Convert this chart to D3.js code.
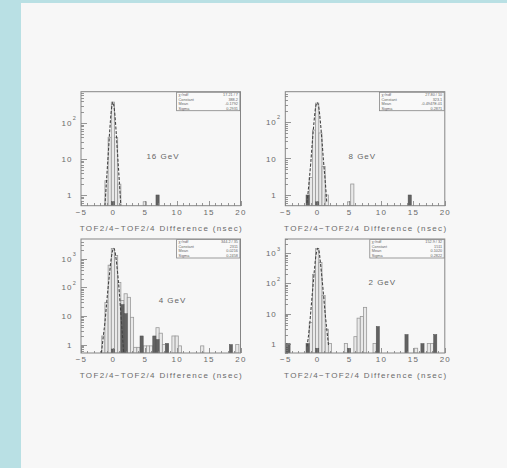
<!DOCTYPE html>
<html>
<head>
<meta charset="utf-8">
<title>TOF2/4 difference</title>
<script src="https://d3js.org/d3.v7.min.js"></script>
<style>
body { margin: 0; background: #b9e0e4; }
svg { display: block; }
.axis path { display: none; }
.axis line { stroke: #7c7c7c; stroke-width: 0.8; shape-rendering: crispEdges; }
.axis text { font-family: "Liberation Sans", Arial, sans-serif; fill: #6a6a6a; }
text { font-family: "Liberation Sans", Arial, sans-serif; }
</style>
</head>
<body>
<script>
// panel labels and axis ranges
var energies = ["16 GeV", "8 GeV", "4 GeV", "2 GeV"];
var xDomain = [-5, 20];
var xTicks = [-5, 0, 5, 10, 15, 20];
var yMin = [0.504, 0.509, 0.507, 0.486];
var yMax = [740, 676, 4950, 3000];
var binWidth = 0.5;
var xTitle = "TOF2/4\u2212TOF2/4 Difference (nsec)";

// histograms: [bin centre, entries]
var light16 = [[-1,2.5],[-0.5,40],[0,380],[0.5,40],[1,2],[5,0.65]];
var dark16  = [[0,0.65],[7,1]];
var light8  = [[-1,3],[-0.5,60],[0,330],[0.5,50],[1,6],[1.5,1],[5,0.65],[5.5,2]];
var dark8   = [[-1.5,1],[0,0.65],[14.5,1]];
var light4  = [[-1.5,2],[-1,30],[-0.5,600],[0,2300],[0.5,1300],[1,150],[1.5,35],[2,60],[2.5,45],[3,9],
               [3.5,0.8],[4,0.8],[5,0.9],[5.5,0.9],[6,0.9],[7,3.9],[7.5,2.5],[8,1],[9.5,2],[10,2],
               [10.5,0.9],[14,0.9],[19.5,1]];
var dark4   = [[0,0.7],[1.5,25],[2,12],[4.5,2],[6.5,2],[7,1.5],[8.5,1.1],[18.5,1]];
var light2  = [[-1,5],[-0.5,200],[0,1450],[0.5,500],[1,40],[1.5,3],[2,1],[4.5,1],[6,1.7],[6.5,7],
               [7,8],[7.5,16],[9,1],[15.5,0.7],[17.5,1],[18,1]];
var dark2   = [[-5,1],[-4.5,1],[-1.5,1],[0,0.7],[5,0.7],[9.5,3.7],[14,2],[16.5,1],[18.5,2]];

// gaussian fit curves
var fitX16 = [-1.25,-1,-0.75,-0.5,-0.25,0,0.25,0.5,0.75,1,1.25];
var fitY16 = [0.5,2.5,12,60,220,380,220,60,12,2.5,0.5];
var fitX8  = [-1.6,-1.25,-1,-0.75,-0.5,-0.25,0,0.25,0.5,0.75,1,1.25,1.5];
var fitY8  = [0.6,2.5,8,30,100,250,340,250,100,30,8,2.5,0.6];
var fitX4  = [-1.8,-1.5,-1.25,-1,-0.75,-0.5,-0.25,0,0.1,0.25,0.5,0.75,1,1.25,1.5,1.7];
var fitY4  = [0.5,2,6,25,100,350,1100,2100,2340,2100,1000,300,70,12,2,0.5];
var fitX2  = [-1.6,-1.25,-1,-0.75,-0.5,-0.25,0,0.1,0.25,0.5,0.75,1,1.25,1.5,1.8];
var fitY2  = [0.8,3,12,50,200,700,1350,1460,1300,500,150,40,10,3,0.8];

// stat boxes
var statNames = ["\u03c7\u00b2/ndf", "Constant", "Mean", "Sigma"];
var stats16 = ["17.21 /  7", "388.2", "-0.1792", "0.2931"];
var stats8  = ["27.80 /  10", "323.1", "-0.4947E-01", "0.2871"];
var stats4  = ["344.2 /  35", "2311", "0.0216", "0.2458"];
var stats2  = ["152.9 /  32", "1511", "0.1020", "0.2822"];

var panels = [
  {label: energies[0], light: light16, dark: dark16, fx: fitX16, fy: fitY16, stats: stats16,
   ylo: yMin[0], yhi: yMax[0], left: 81, top: 91.7, lab: [82, 65], box: 63.3},
  {label: energies[1], light: light8, dark: dark8, fx: fitX8, fy: fitY8, stats: stats8,
   ylo: yMin[1], yhi: yMax[1], left: 285.3, top: 91.7, lab: [77, 64.5], box: 64.7},
  {label: energies[2], light: light4, dark: dark4, fx: fitX4, fy: fitY4, stats: stats4,
   ylo: yMin[2], yhi: yMax[2], left: 81, top: 239, lab: [91.5, 61], box: 63.3},
  {label: energies[3], light: light2, dark: dark2, fx: fitX2, fy: fitY2, stats: stats2,
   ylo: yMin[3], yhi: yMax[3], left: 285.3, top: 239, lab: [97, 43], box: 74.4}
];

var W = 507, H = 468, w = 159.5, h = 114;

var svg = d3.select("body").append("svg")
  .attr("width", W).attr("height", H);

svg.append("rect").attr("x", 21).attr("y", 3)
  .attr("width", W - 21).attr("height", H - 3).attr("fill", "#f7f7f7");

panels.forEach(function(p, i) {
  var x = d3.scaleLinear().domain(xDomain).range([0, w]);
  var y = d3.scaleLog().domain([p.ylo, p.yhi]).range([h, 0]);

  var g = svg.append("g").attr("transform", "translate(" + p.left + "," + p.top + ")");

  g.append("clipPath").attr("id", "clip" + i)
    .append("rect").attr("width", w).attr("height", h);

  var plot = g.append("g").attr("clip-path", "url(#clip" + i + ")");

  plot.selectAll(".light").data(p.light).enter().append("rect")
    .attr("class", "light")
    .attr("x", function(d) { return x(d[0] - binWidth / 2); })
    .attr("width", x(binWidth) - x(0))
    .attr("y", function(d) { return y(d[1]); })
    .attr("height", function(d) { return h - y(d[1]); })
    .attr("fill", "#e9e9e9")
    .attr("stroke", "#999")
    .attr("stroke-width", 0.8);

  plot.selectAll(".dark").data(p.dark).enter().append("rect")
    .attr("class", "dark")
    .attr("x", function(d) { return x(d[0] - binWidth / 2); })
    .attr("width", x(binWidth) - x(0))
    .attr("y", function(d) { return y(d[1]); })
    .attr("height", function(d) { return h - y(d[1]); })
    .attr("fill", "#626262")
    .attr("stroke", "#505050")
    .attr("stroke-width", 0.5);

  var line = d3.line()
    .x(function(d) { return x(d[0]); })
    .y(function(d) { return y(d[1]); })
    .curve(d3.curveMonotoneX);

  plot.append("path")
    .datum(p.fx.map(function(v, k) { return [v, p.fy[k]]; }))
    .attr("d", line)
    .attr("fill", "none")
    .attr("stroke", "#444")
    .attr("stroke-width", 1.1)
    .attr("stroke-dasharray", "3,1.6");

  // x axis, ticks pointing in
  var xMinor = d3.range(-4, 20, 1).filter(function(v) { return v % 5 !== 0; });
  g.append("g").attr("class", "axis")
    .attr("transform", "translate(0," + h + ")")
    .call(d3.axisBottom(x).tickValues(xMinor).tickSize(-2.5).tickFormat(""));
  var xa = g.append("g").attr("class", "axis")
    .attr("transform", "translate(0," + h + ")")
    .call(d3.axisBottom(x).tickValues(xTicks).tickSize(-5).tickPadding(3.2)
      .tickFormat(function(d) { return d < 0 ? "\u2212" + (-d) : d; }));
  xa.selectAll("text").style("font-size", "8px").style("letter-spacing", "1.2px");

  // y axis (log), minor ticks at 2..9
  var minor = [], major = [];
  for (var e = -1; e <= 4; e++) {
    var base = Math.pow(10, e);
    if (base >= p.ylo && base <= p.yhi) major.push(base);
    for (var m = 2; m <= 9; m++) {
      var v = m * base;
      if (v >= p.ylo && v <= p.yhi) minor.push(v);
    }
  }
  g.append("g").attr("class", "axis")
    .call(d3.axisLeft(y).tickValues(minor).tickSize(-3).tickFormat(""));
  var ya = g.append("g").attr("class", "axis")
    .call(d3.axisLeft(y).tickValues(major).tickSize(-5.5).tickPadding(8.5)
      .tickFormat(function(d) { return d >= 100 ? "10" : d3.format("d")(d); }));
  ya.selectAll("text").style("font-size", "8px").style("letter-spacing", "1px");
  ya.selectAll(".tick").filter(function(d) { return d >= 100; })
    .append("text")
    .attr("x", -8.2).attr("y", -3.2)
    .attr("text-anchor", "start")
    .style("font-size", "5.5px")
    .attr("fill", "#6a6a6a")
    .text(function(d) { return Math.round(Math.log10(d)); });

  // frame
  g.append("rect").attr("width", w).attr("height", h)
    .attr("fill", "none").attr("stroke", "#858585").attr("stroke-width", 1);

  // energy label
  g.append("text")
    .attr("x", p.lab[0]).attr("y", p.lab[1])
    .attr("dy", "0.35em")
    .attr("text-anchor", "middle")
    .style("font-size", "8px")
    .style("letter-spacing", "1px")
    .attr("fill", "#666")
    .text(p.label);

  // x title
  g.append("text")
    .attr("x", w / 2).attr("y", h + 25.4)
    .attr("text-anchor", "middle")
    .attr("textLength", 162)
    .attr("lengthAdjust", "spacing")
    .style("font-size", "8px")
    .attr("fill", "#6a6a6a")
    .text(xTitle);

  // stat box
  var bh = 18.4, rowH = bh / 4;
  var sb = g.append("g").attr("transform", "translate(" + (w - p.box - 0.6) + ",0.6)");
  sb.append("rect").attr("width", p.box).attr("height", bh)
    .attr("fill", "#f9f9f9").attr("stroke", "#858585").attr("stroke-width", 0.8);
  sb.selectAll(".sn").data(statNames).enter().append("text")
    .attr("x", 2).attr("y", function(d, k) { return rowH * (k + 0.5); })
    .attr("dy", "0.35em")
    .style("font-size", "3.8px").attr("fill", "#666")
    .text(function(d) { return d; });
  sb.selectAll(".sv").data(p.stats).enter().append("text")
    .attr("x", p.box - 2).attr("y", function(d, k) { return rowH * (k + 0.5); })
    .attr("dy", "0.35em")
    .attr("text-anchor", "end")
    .style("font-size", "3.8px").attr("fill", "#666")
    .text(function(d) { return d; });
});
</script>
</body>
</html>
